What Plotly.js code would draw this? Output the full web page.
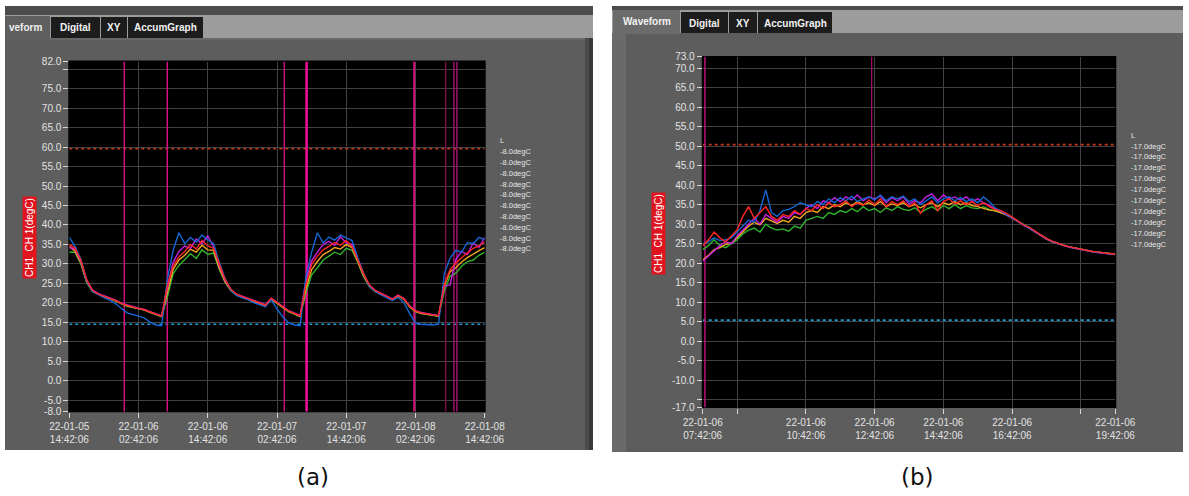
<!DOCTYPE html>
<html>
<head>
<meta charset="utf-8">
<script src="https://cdn.plot.ly/plotly-3.0.1.min.js"></script>
<style>
  html, body { margin: 0; padding: 0; background: #fff; }
  #chart { width: 1189px; height: 496px; }
</style>
</head>
<body>
<div id="chart"></div>
<script>
// ---------- Recording (a): three days, hourly samples ----------
const startA = '2022-01-05 14:42:06';
const endA   = '2022-01-08 14:42:06';
const stepA  = 60; // minutes between samples

const greenA   = [33.0,33.0,30.0,25.3,22.9,22.1,21.5,21.1,20.4,19.7,19.1,18.8,18.4,18.1,17.5,16.9,16.4,21.5,27.5,29.6,31.0,32.6,31.4,33.6,32.4,32.8,28.6,25.3,23.1,21.9,21.4,20.9,20.2,19.7,19.2,20.9,19.9,18.7,17.7,17.1,16.4,22.5,27.2,29.0,31.0,32.0,33.0,32.4,34.0,33.5,30.4,26.8,24.2,22.9,22.2,21.5,20.7,21.7,20.9,18.9,17.7,17.2,17.0,16.8,16.5,23.0,26.8,27.6,29.4,30.6,31.0,32.2,33.0];
const orangeA  = [34.5,33.2,30.3,25.4,23.0,22.2,21.6,21.2,20.5,19.8,19.2,18.9,18.5,18.2,17.6,17.0,16.6,22.6,28.6,31.0,32.2,33.8,33.0,34.8,33.6,33.5,28.8,25.4,23.2,22.0,21.5,21.0,20.3,19.8,19.3,21.0,20.0,18.8,17.8,17.2,16.6,23.5,28.5,30.6,32.4,33.2,34.2,33.8,35.0,34.2,30.8,27.0,24.3,23.0,22.3,21.6,20.8,21.8,21.0,19.0,17.8,17.3,17.1,16.9,16.6,24.4,28.0,29.0,30.5,31.6,32.6,33.4,34.2];
const magentaA = [34.2,33.8,30.6,25.8,23.3,22.4,21.8,21.3,20.7,19.9,19.4,19.0,18.6,18.3,17.7,17.1,16.6,23.8,30.4,33.2,34.6,34.0,36.4,35.2,37.2,34.4,29.6,25.8,23.4,22.2,21.7,21.2,20.5,20.0,19.5,21.2,20.2,19.0,18.0,17.4,16.7,25.6,30.8,33.0,35.0,35.8,34.8,37.0,35.4,35.0,31.4,27.4,24.5,23.2,22.5,21.8,21.0,22.0,21.1,19.2,18.0,17.5,17.2,17.0,16.7,24.2,24.6,31.2,33.2,32.4,35.4,34.2,36.8];
const blueA    = [36.8,34.5,31.2,25.6,22.9,22.0,21.3,20.7,19.8,18.6,17.4,17.0,16.6,16.1,15.0,14.3,14.1,26.0,33.5,38.0,35.2,36.8,35.6,37.4,36.2,35.2,30.4,26.2,23.2,21.9,21.3,20.8,20.0,19.5,19.0,20.8,18.4,16.4,14.9,14.3,14.1,26.5,33.0,38.0,35.4,36.9,36.1,37.4,36.6,36.0,31.6,27.6,24.2,22.9,22.1,21.4,20.6,21.4,20.0,17.2,14.8,14.5,14.4,14.3,14.5,27.5,31.5,33.5,33.0,35.5,35.2,36.8,36.2];
const redA     = [35.0,34.0,31.0,26.0,23.2,22.3,21.7,21.2,20.6,19.8,19.3,18.9,18.5,18.2,17.6,17.0,16.5,24.5,29.5,31.8,33.2,35.0,33.8,36.0,34.6,34.0,30.0,26.0,23.5,22.2,21.6,21.1,20.4,19.9,19.4,21.2,20.1,18.9,17.9,17.3,16.6,24.5,29.8,32.0,33.6,34.5,35.5,34.8,36.0,34.5,31.0,27.5,24.6,23.2,22.4,21.7,20.9,21.9,21.0,19.1,17.9,17.4,17.1,16.9,16.7,24.8,28.5,30.2,31.6,32.8,34.0,34.6,35.6];

const limitsA  = [59.6, 14.5];              // upper / lower alarm levels (degC)
const cursorsA = ['2022-01-06 00:14','2022-01-06 07:41','2022-01-07 03:58','2022-01-07 07:50','2022-01-08 02:29','2022-01-08 07:56','2022-01-08 09:22','2022-01-08 09:53'];
const cursorColorsA = ['#d4107c','#d4107c','#c8107a','#f0109a','#d4107c','#7a0a48','#a0106a','#a0106a'];
const cursorWidthsA = [1.5,1.5,1.5,2.5,2,1.5,1.5,1.5];

const xTicksA  = ['2022-01-05 14:42:06','2022-01-06 02:42:06','2022-01-06 14:42:06','2022-01-07 02:42:06','2022-01-07 14:42:06','2022-01-08 02:42:06','2022-01-08 14:42:06'];
const xLabelsA = ['22-01-05<br>14:42:06','22-01-06<br>02:42:06','22-01-06<br>14:42:06','22-01-07<br>02:42:06','22-01-07<br>14:42:06','22-01-08<br>02:42:06','22-01-08<br>14:42:06'];
const xGridA   = ['2022-01-06 02:42:06','2022-01-06 14:42:06','2022-01-07 02:42:06','2022-01-07 14:42:06','2022-01-08 02:42:06'];
const yTicksA  = [82,80,75,70,65,60,55,50,45,40,35,30,25,20,15,10,5,0,-5,-8];
const yGridA   = [80,75,70,65,60,55,50,45,40,35,30,25,20,15,10,5,0,-5];
const yRangeA  = [-8, 82];
const readoutsA = ['-8.0degC','-8.0degC','-8.0degC','-8.0degC','-8.0degC','-8.0degC','-8.0degC','-8.0degC','-8.0degC','-8.0degC'];

// ---------- Recording (b): twelve hours, 10-minute samples ----------
const startB = '2022-01-06 07:42:06';
const endB   = '2022-01-06 19:42:06';
const stepB  = 10;

const greenB   = [23.5,24.5,26.0,24.5,24.0,25.0,26.0,27.5,28.5,29.0,28.0,30.0,29.0,28.5,28.8,28.2,29.5,29.0,31.0,31.5,32.0,31.5,33.0,32.5,33.5,33.0,34.0,33.2,34.5,33.5,34.0,33.0,34.2,33.5,34.5,33.8,33.5,34.2,33.0,33.8,34.5,33.5,34.8,34.0,35.0,34.0,34.8,34.2,34.0,34.5,33.8,33.4,33.0,32.4,31.6,30.7,29.8,29.1,28.1,27.1,26.2,25.5,24.9,24.5,24.2,23.9,23.5,23.3,23.0,22.8,22.6,22.5,22.3];
const orangeB  = [20.8,22.0,23.5,24.0,24.8,25.2,26.5,28.0,29.5,30.5,29.8,31.5,30.8,30.2,31.0,30.5,32.0,31.5,33.0,33.5,33.0,34.5,34.0,35.0,34.5,35.5,34.8,35.8,35.0,35.5,34.8,35.8,34.5,35.2,34.8,35.5,34.5,35.0,34.2,35.0,35.5,34.5,35.5,35.0,35.8,35.0,35.5,34.8,34.5,34.0,33.6,33.5,33.0,32.4,31.6,30.7,29.8,29.1,28.1,27.1,26.3,25.6,25.0,24.6,24.2,23.9,23.5,23.3,23.0,22.8,22.6,22.5,22.3];
const magentaB = [20.5,21.8,23.0,24.5,25.5,25.0,27.0,28.5,30.0,31.5,30.0,32.5,31.5,30.5,32.0,31.5,33.0,32.5,34.0,35.0,34.0,36.0,35.5,36.8,35.8,37.0,36.2,37.5,36.0,37.0,36.5,37.2,35.5,36.8,36.0,37.0,35.2,36.0,35.5,37.0,37.8,36.0,37.5,36.5,37.0,36.2,37.0,35.8,36.5,35.5,34.8,33.9,33.3,32.5,31.6,30.7,29.7,29.0,28.0,27.0,26.2,25.5,24.9,24.5,24.1,23.8,23.4,23.2,22.9,22.7,22.5,22.4,22.2];
const blueB    = [25.0,25.5,26.5,25.8,26.0,26.5,28.0,29.5,31.0,30.5,33.5,38.8,33.0,32.0,33.5,33.8,34.5,35.5,35.0,34.5,35.8,35.0,36.5,35.5,36.8,36.0,37.2,35.8,36.5,37.0,36.2,37.5,36.0,37.0,36.5,37.2,35.8,36.5,35.0,36.0,37.0,35.5,36.5,37.0,36.0,36.8,35.8,36.5,35.5,37.0,35.8,34.2,33.4,32.6,31.7,30.7,29.8,29.1,28.1,27.1,26.3,25.5,25.0,24.5,24.2,23.8,23.5,23.3,23.0,22.8,22.6,22.4,22.2];
const redB     = [24.5,26.0,28.0,26.5,25.5,27.0,28.5,32.0,34.5,31.5,33.0,34.5,32.0,31.0,32.5,32.0,33.5,32.5,34.0,33.5,35.0,34.0,35.5,34.5,35.0,36.0,34.5,35.5,34.8,36.2,35.0,36.5,34.5,35.8,35.0,36.0,34.5,35.5,32.8,35.0,36.0,33.5,35.8,36.5,35.2,36.0,35.0,35.8,34.8,35.5,34.5,33.8,33.5,32.8,31.8,30.8,29.8,29.2,28.2,27.2,26.3,25.6,25.0,24.6,24.2,23.9,23.5,23.3,23.0,22.9,22.6,22.5,22.3];

const limitsB  = [50.4, 5.4];
const cursorsB = ['2022-01-06 07:46','2022-01-06 12:37'];
const cursorSpanB = [[-17, 73], [37, 73]];
const cursorColorsB = ['#c0107a','#b01070'];

const xTicksB  = ['2022-01-06 07:42:06','2022-01-06 08:42:06','2022-01-06 10:42:06','2022-01-06 12:42:06','2022-01-06 14:42:06','2022-01-06 16:42:06','2022-01-06 18:42:06','2022-01-06 19:42:06'];
const xLabelsB = ['22-01-06<br>07:42:06','','22-01-06<br>10:42:06','22-01-06<br>12:42:06','22-01-06<br>14:42:06','22-01-06<br>16:42:06','','22-01-06<br>19:42:06'];
const xGridB   = ['2022-01-06 08:42:06','2022-01-06 10:42:06','2022-01-06 12:42:06','2022-01-06 14:42:06','2022-01-06 16:42:06','2022-01-06 18:42:06'];
const yTicksB  = [73,70,65,60,55,50,45,40,35,30,25,20,15,10,5,0,-5,-10,-15,-17];
const yTickTextB = ['73.0','70.0','65.0','60.0','55.0','50.0','45.0','40.0','35.0','30.0','25.0','20.0','15.0','10.0','5.0','0.0','-5.0','-10.0','','-17.0'];
const yGridB   = [70,65,60,55,50,45,40,35,30,25,20,15,10,5,0,-5,-10,-15];
const yRangeB  = [-17, 73];
const readoutsB = ['-17.0degC','-17.0degC','-17.0degC','-17.0degC','-17.0degC','-17.0degC','-17.0degC','-17.0degC','-17.0degC','-17.0degC'];

const channelColors = { green: '#2fb52f', orange: '#f0a81c', magenta: '#c41fe0', blue: '#1466d2', red: '#ff2626' };
const tabNames = ['Digital', 'XY', 'AccumGraph'];
const axisTitle = 'CH1\u00a0\u00a0CH 1(degC)';

// ---------- helpers ----------
const W = 1189, H = 496;
const FONT = 'Liberation Sans, Arial, sans-serif';

function stamps(start, stepMin, n) {
  const [d, t] = start.split(' ');
  const [Y, M, D] = d.split('-').map(Number);
  const [h, m, s] = t.split(':').map(Number);
  const t0 = Date.UTC(Y, M - 1, D, h, m, s);
  const out = [];
  for (let i = 0; i < n; i++) {
    out.push(new Date(t0 + i * stepMin * 60000).toISOString().replace('T', ' ').slice(0, 19));
  }
  return out;
}
const fx = x => x / W;
const fy = y => 1 - y / H;
function rect(x0, y0, x1, y1, fill) {
  return { type: 'rect', xref: 'paper', yref: 'paper', x0: fx(x0), x1: fx(x1), y0: fy(y1), y1: fy(y0),
           fillcolor: fill, line: { width: 0 }, layer: 'below' };
}
function text(x, y, str, size, color, anchor, extra) {
  return Object.assign({ xref: 'paper', yref: 'paper', x: fx(x), y: fy(y), text: str, showarrow: false,
    xanchor: anchor || 'center', yanchor: 'middle', font: { family: FONT, size: size, color: color } }, extra || {});
}
const fmt1 = v => v.toFixed(1);

// ---------- traces ----------
const timesA = stamps(startA, stepA, redA.length);
const timesB = stamps(startB, stepB, redB.length);
const traces = [];

function limitTraces(limits, start, end, xa, ya) {
  const cols = ['#c4381a', '#1b9ed6'];
  limits.forEach((v, i) => traces.push({
    type: 'scatter', mode: 'lines', x: [start, end], y: [v, v], xaxis: xa, yaxis: ya,
    line: { color: cols[i], width: 1.6, dash: '3px,3px' }, hoverinfo: 'skip'
  }));
}
function channelTraces(set, times, xa, ya) {
  Object.keys(set).forEach(k => traces.push({
    type: 'scatter', mode: 'lines', x: times, y: set[k], xaxis: xa, yaxis: ya,
    line: { color: channelColors[k], width: 1.4 }, name: k
  }));
}
function cursorTraces(list, spans, colors, widths, xa, ya) {
  list.forEach((c, i) => traces.push({
    type: 'scatter', mode: 'lines', x: [c, c], y: spans[i], xaxis: xa, yaxis: ya,
    line: { color: colors[i], width: widths[i] }, hoverinfo: 'skip'
  }));
}

limitTraces(limitsA, startA, endA, 'x', 'y');
cursorTraces(cursorsA, cursorsA.map(() => yRangeA), cursorColorsA, cursorWidthsA, 'x', 'y');
channelTraces({ green: greenA, orange: orangeA, magenta: magentaA, blue: blueA, red: redA }, timesA, 'x', 'y');

limitTraces(limitsB, startB, endB, 'x2', 'y2');
cursorTraces(cursorsB, cursorSpanB, cursorColorsB, [1.5, 1.2], 'x2', 'y2');
channelTraces({ green: greenB, orange: orangeB, magenta: magentaB, blue: blueB, red: redB }, timesB, 'x2', 'y2');

// ---------- axes ----------
const tickFont = { family: FONT, size: 10, color: '#e2e2e2' };
const GRID = '#424242';
function xAxis(domain, anchor, range, vals, labels, grid) {
  return { domain: domain, anchor: anchor, type: 'date', range: range, tickmode: 'array',
    tickvals: vals, ticktext: labels, ticks: 'outside', ticklen: 5, tickwidth: 1, tickcolor: '#d8d8d8',
    tickfont: tickFont, showgrid: false, zeroline: false, showline: false, fixedrange: true,
    minor: { tickmode: 'array', tickvals: grid, showgrid: true, gridcolor: GRID, gridwidth: 1, ticks: '' } };
}
function yAxis(domain, anchor, range, vals, labels, grid) {
  return { domain: domain, anchor: anchor, range: range, tickmode: 'array',
    tickvals: vals, ticktext: labels, ticks: 'outside', ticklen: 5, tickwidth: 1, tickcolor: '#d8d8d8',
    tickfont: tickFont, showgrid: false, zeroline: false, showline: false, fixedrange: true,
    minor: { tickmode: 'array', tickvals: grid, showgrid: true, gridcolor: GRID, gridwidth: 1,
             ticks: 'outside', ticklen: 5, tickcolor: '#d8d8d8' } };
}

// plot-area pixel boxes
const boxA = { x0: 69.3, x1: 484.7, y0: 61.6, y1: 411.7 };
const boxB = { x0: 702.7, x1: 1115.3, y0: 56.5, y1: 407.5 };

// ---------- panel chrome ----------
const shapes = [
  // panel (a)
  rect(5, 6, 593, 15, '#4c4c4c'),
  rect(5, 15, 593, 38, '#9c9c9c'),
  rect(5, 38, 593, 450, '#5d5d5d'),
  rect(5, 38, 593, 40, '#686868'),
  rect(585, 38, 589, 450, '#4a4a4a'),
  rect(589, 38, 593, 450, '#3a3a3a'),
  rect(5, 16, 50, 40, '#5f5f5f'),
  rect(51, 17, 100, 38, '#1c1c1c'),
  rect(101, 17, 127, 38, '#1c1c1c'),
  rect(128, 17, 203, 38, '#1c1c1c'),
  rect(boxA.x0 - 1, boxA.y0 - 1, boxA.x1 + 1, boxA.y1 + 0.5, '#000000'),
  // panel (b)
  rect(612, 6, 1183, 10, '#4c4c4c'),
  rect(612, 10, 1183, 33, '#9c9c9c'),
  rect(612, 33, 1183, 452, '#5d5d5d'),
  rect(612, 33, 626, 452, '#6a6a6a'),
  rect(613, 10, 680, 34, '#6b6b6b'),
  rect(681, 12, 728, 33, '#1c1c1c'),
  rect(729, 12, 757, 33, '#1c1c1c'),
  rect(758, 12, 832, 33, '#1c1c1c'),
  rect(boxB.x0 - 1, boxB.y0 - 0.5, boxB.x1 + 1, boxB.y1 + 0.5, '#000000')
];

// ---------- text ----------
const annotations = [];
annotations.push(text(7, 27, '<b>veform</b>', 10, '#eeeeee', 'left'));
[[75.5, 28], [114, 28], [165.5, 28]].forEach((p, i) => annotations.push(text(p[0], p[1], '<b>' + tabNames[i] + '</b>', 10, '#f2f2f2')));
annotations.push(text(646.5, 21.5, '<b>Waveform</b>', 10, '#f2f2f2'));
[[704.5, 23], [743, 23], [795, 23]].forEach((p, i) => annotations.push(text(p[0], p[1], '<b>' + tabNames[i] + '</b>', 10, '#f2f2f2')));

annotations.push(text(29.5, 237.5, axisTitle, 10, '#ffffff', 'center',
  { textangle: -90, bgcolor: '#e0141e', borderpad: 1 }));
annotations.push(text(658, 234, axisTitle, 10, '#ffffff', 'center',
  { textangle: -90, bgcolor: '#e0141e', borderpad: 1 }));

annotations.push(text(498, 140.7, 'L', 7.5, '#e6e6e6', 'left'));
readoutsA.forEach((r, i) => annotations.push(text(498, 151.7 + i * 10.8, r, 7.5, '#e6e6e6', 'left')));
annotations.push(text(1129, 135, 'L', 7.5, '#e6e6e6', 'left'));
readoutsB.forEach((r, i) => annotations.push(text(1129, 146 + i * 10.9, r, 7.5, '#e6e6e6', 'left')));

const captionFont = { family: 'DejaVu Sans, sans-serif', size: 23, color: '#111111' };
annotations.push(text(313, 477, '(a)', 23, '#111111', 'center', { font: captionFont }));
annotations.push(text(918, 477, '(b)', 23, '#111111', 'center', { font: captionFont }));

const layout = {
  width: W, height: H, autosize: false,
  margin: { l: 0, r: 0, t: 0, b: 0, pad: 0 },
  paper_bgcolor: '#ffffff', plot_bgcolor: 'rgba(0,0,0,0)',
  showlegend: false, font: { family: FONT },
  xaxis:  xAxis([fx(boxA.x0), fx(boxA.x1)], 'y',  [startA, endA], xTicksA, xLabelsA, xGridA),
  yaxis:  yAxis([fy(boxA.y1), fy(boxA.y0)], 'x',  yRangeA, yTicksA, yTicksA.map(v => (v === 80 ? '' : fmt1(v))), yGridA),
  xaxis2: xAxis([fx(boxB.x0), fx(boxB.x1)], 'y2', [startB, endB], xTicksB, xLabelsB, xGridB),
  yaxis2: yAxis([fy(boxB.y1), fy(boxB.y0)], 'x2', yRangeB, yTicksB, yTickTextB, yGridB),
  shapes: shapes,
  annotations: annotations
};

Plotly.newPlot('chart', traces, layout, { staticPlot: true, displayModeBar: false });
</script>
</body>
</html>
